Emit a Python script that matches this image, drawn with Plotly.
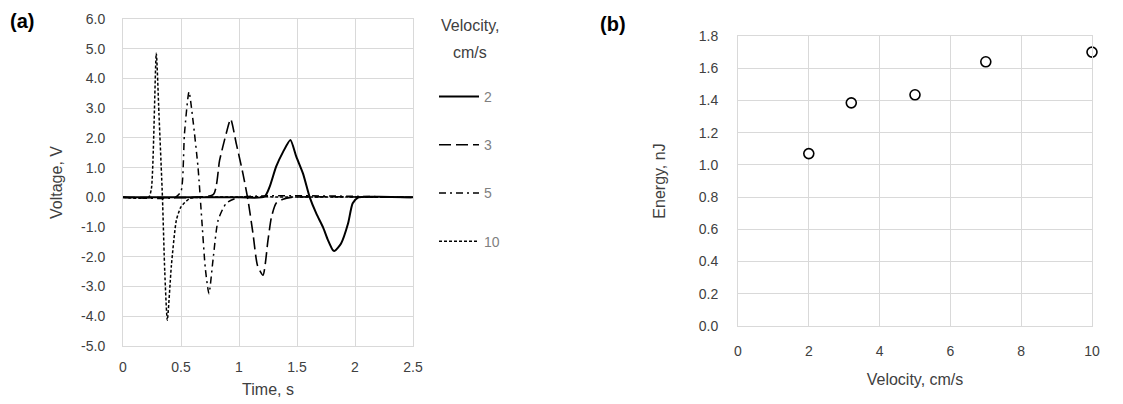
import plotly.graph_objects as go

W, H = 1123, 404

# ---- Panel (a): voltage traces ----
t_v2 = [0.0, 1.0, 1.22, 1.264, 1.32, 1.38, 1.443, 1.494, 1.552, 1.61, 1.667, 1.724, 1.767, 1.81, 1.825, 1.88, 1.94, 1.98, 2.03, 2.2, 2.5]
v_v2 = [0.0, 0.0, 0.02, 0.35, 1.03, 1.53, 1.93, 1.37, 0.8, 0.0, -0.55, -1.0, -1.44, -1.78, -1.8, -1.55, -0.88, -0.2, 0.0, 0.02, 0.0]

t_v3 = [0.0, 0.6, 0.78, 0.833, 0.89, 0.928, 0.977, 1.034, 1.078, 1.12, 1.16, 1.207, 1.25, 1.28, 1.32, 1.38, 1.45, 2.5]
v_v3 = [0.0, 0.0, 0.1, 1.25, 2.15, 2.63, 1.8, 0.8, -0.1, -1.2, -2.3, -2.62, -1.44, -0.66, -0.2, -0.06, 0.0, 0.0]

t_v5 = [0.0, 0.45, 0.50, 0.53, 0.569, 0.603, 0.647, 0.68, 0.71, 0.741, 0.776, 0.82, 0.89, 1.0, 2.5]
v_v5 = [0.0, 0.0, 0.2, 2.15, 3.55, 2.6, 1.0, -0.8, -2.4, -3.24, -2.1, -0.77, -0.2, 0.0, 0.0]

t_v10 = [0.0, 0.22, 0.245, 0.287, 0.31, 0.34, 0.36, 0.382, 0.417, 0.46, 0.50, 0.575, 0.65, 2.5]
v_v10 = [0.0, 0.0, 0.3, 4.85, 2.8, 0.0, -2.5, -4.13, -2.3, -0.77, -0.32, -0.04, 0.0, 0.0]

volt_ticks = [-5, -4, -3, -2, -1, 0, 1, 2, 3, 4, 5, 6]
volt_labels = ["-5.0", "-4.0", "-3.0", "-2.0", "-1.0", "0.0", "1.0", "2.0", "3.0", "4.0", "5.0", "6.0"]
time_ticks = [0, 0.5, 1, 1.5, 2, 2.5]
time_labels = ["0", "0.5", "1", "1.5", "2", "2.5"]

# ---- Panel (b): energy vs velocity ----
velocity = [2, 3.2, 5, 7, 10]
energy = [1.07, 1.385, 1.435, 1.64, 1.70]

series = [
    ("2", t_v2, v_v2, "solid", 2.0),
    ("3", t_v3, v_v3, "12px,5px", 1.6),
    ("5", t_v5, v_v5, "7px,4px,2px,4px", 1.5),
    ("10", t_v10, v_v10, "3px,2px", 1.5),
]

fig = go.Figure()
for name, t, v, dash, w in series:
    fig.add_trace(go.Scatter(
        x=t, y=v, mode="lines", name=name, legendgroup=name,
        line=dict(color="black", dash=dash, width=w, shape="spline", smoothing=0.6),
        xaxis="x", yaxis="y",
    ))

fig.add_trace(go.Scatter(
    x=velocity, y=energy, mode="markers", showlegend=False,
    marker=dict(symbol="circle", size=10, color="white", line=dict(color="black", width=1.6)),
    cliponaxis=False, xaxis="x2", yaxis="y2",
))

FONT = "Liberation Sans, Arial, sans-serif"
grid = "#d9d9d9"
tickfont = dict(family=FONT, size=14, color="#404040")
titlefont = dict(family=FONT, size=16, color="#404040")


def px_x(p):
    return p / W


def px_y(p):
    return 1 - p / H


common = dict(showgrid=True, gridcolor=grid, gridwidth=1, zeroline=False,
              showline=True, linecolor=grid, mirror=True, ticks="",
              tickfont=tickfont, automargin=False)

fig.update_layout(
    width=W, height=H,
    margin=dict(l=0, r=0, t=0, b=0, autoexpand=False),
    paper_bgcolor="white", plot_bgcolor="white",
    font=dict(family=FONT),
    xaxis=dict(domain=[px_x(123), px_x(413)], range=[0, 2.5],
               tickmode="array", tickvals=time_ticks, ticktext=time_labels,
               ticklabelstandoff=8, anchor="y",
               title=dict(text="Time, s", font=titlefont, standoff=10), **common),
    yaxis=dict(domain=[px_y(346), px_y(19)], range=[-5, 6],
               tickmode="array", tickvals=volt_ticks, ticktext=volt_labels,
               ticklabelstandoff=14, anchor="x",
               title=dict(text="Voltage, V", font=titlefont, standoff=14), **common),
    xaxis2=dict(domain=[px_x(738), px_x(1092)], range=[0, 10], dtick=2, tick0=0,
                ticklabelstandoff=12, anchor="y2",
                title=dict(text="Velocity, cm/s", font=titlefont, standoff=16), **common),
    yaxis2=dict(domain=[px_y(326), px_y(36)], range=[0, 1.8], dtick=0.2, tick0=0, tickformat=".1f",
                ticklabelstandoff=16, anchor="x2",
                title=dict(text="Energy, nJ", font=titlefont, standoff=29), **common),
    legend=dict(
        x=px_x(434), y=px_y(81), xanchor="left", yanchor="top",
        font=dict(family=FONT, size=14, color="#7f7f7f"),
        tracegroupgap=27, itemwidth=40, bgcolor="rgba(0,0,0,0)",
    ),
    annotations=[
        dict(text="<b>(a)</b>", x=px_x(8), y=px_y(21), xref="paper", yref="paper",
             xanchor="left", yanchor="middle", showarrow=False,
             font=dict(family=FONT, size=20, color="black")),
        dict(text="<b>(b)</b>", x=px_x(598), y=px_y(24), xref="paper", yref="paper",
             xanchor="left", yanchor="middle", showarrow=False,
             font=dict(family=FONT, size=20, color="black")),
        dict(text="Velocity,", x=px_x(470), y=px_y(25), xref="paper", yref="paper",
             xanchor="center", yanchor="middle", showarrow=False,
             font=dict(family=FONT, size=16, color="#404040")),
        dict(text="cm/s", x=px_x(470), y=px_y(52), xref="paper", yref="paper",
             xanchor="center", yanchor="middle", showarrow=False,
             font=dict(family=FONT, size=16, color="#404040")),
    ],
)

fig.write_html("out.html")
